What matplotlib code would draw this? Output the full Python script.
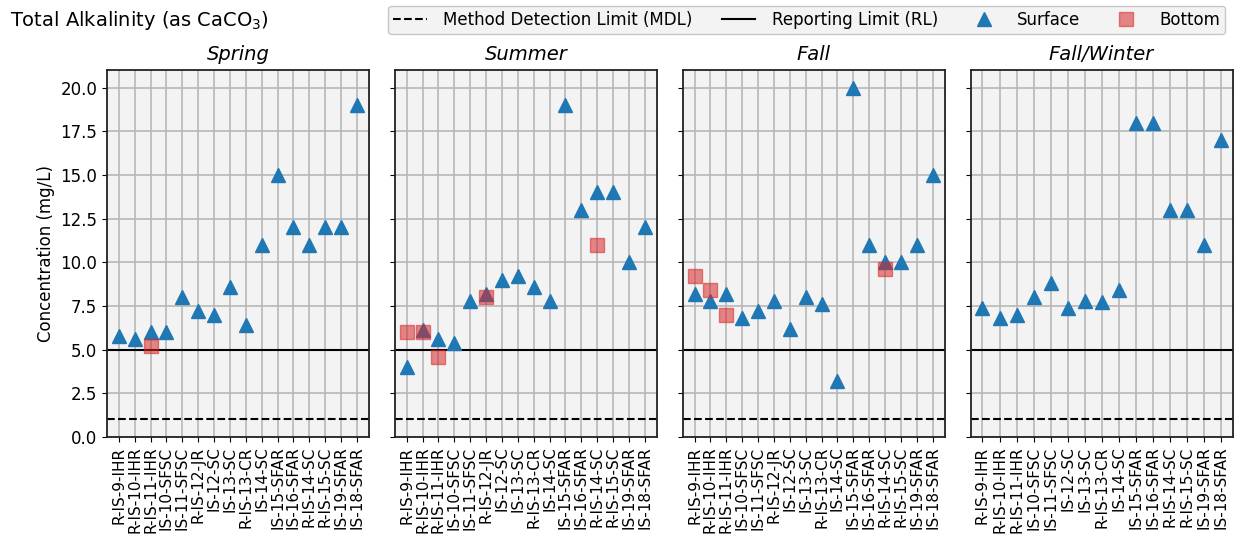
import numpy as np
import matplotlib
matplotlib.use("Agg")
import matplotlib.pyplot as plt
from matplotlib.lines import Line2D

# station lists per season
stations_main = ['R-IS-9-IHR', 'R-IS-10-IHR', 'R-IS-11-IHR', 'IS-10-SFSC', 'IS-11-SFSC',
                 'R-IS-12-JR', 'IS-12-SC', 'IS-13-SC', 'R-IS-13-CR', 'IS-14-SC',
                 'IS-15-SFAR', 'IS-16-SFAR', 'R-IS-14-SC', 'R-IS-15-SC', 'IS-19-SFAR', 'IS-18-SFAR']
stations_fw = ['R-IS-9-IHR', 'R-IS-10-IHR', 'R-IS-11-IHR', 'IS-10-SFSC', 'IS-11-SFSC',
               'IS-12-SC', 'IS-13-SC', 'R-IS-13-CR', 'IS-14-SC',
               'IS-15-SFAR', 'IS-16-SFAR', 'R-IS-14-SC', 'R-IS-15-SC', 'IS-19-SFAR', 'IS-18-SFAR']

seasons = ['Spring', 'Summer', 'Fall', 'Fall/Winter']

# surface results (mg/L)
spring_surface = [5.8, 5.6, 6.0, 6.0, 8.0, 7.2, 7.0, 8.6, 6.4, 11.0, 15.0, 12.0, 11.0, 12.0, 12.0, 19.0]
summer_surface = [4.0, 6.1, 5.6, 5.4, 7.8, 8.2, 9.0, 9.2, 8.6, 7.8, 19.0, 13.0, 14.0, 14.0, 10.0, 12.0]
fall_surface = [8.2, 7.8, 8.2, 6.8, 7.2, 7.8, 6.2, 8.0, 7.6, 3.2, 20.0, 11.0, 10.0, 10.0, 11.0, 15.0]
fw_surface = [7.4, 6.8, 7.0, 8.0, 8.8, 7.4, 7.8, 7.7, 8.4, 18.0, 18.0, 13.0, 13.0, 11.0, 17.0]

# bottom results (station, value)
spring_bottom = {'R-IS-11-IHR': 5.2}
summer_bottom = {'R-IS-9-IHR': 6.0, 'R-IS-10-IHR': 6.0, 'R-IS-11-IHR': 4.6,
                 'R-IS-12-JR': 8.0, 'R-IS-14-SC': 11.0}
fall_bottom = {'R-IS-9-IHR': 9.2, 'R-IS-10-IHR': 8.4, 'R-IS-11-IHR': 7.0, 'R-IS-14-SC': 9.6}
fw_bottom = {}

mdl = 1.0
rl = 5.0

panels = [
    (stations_main, spring_surface, spring_bottom),
    (stations_main, summer_surface, summer_bottom),
    (stations_main, fall_surface, fall_bottom),
    (stations_fw, fw_surface, fw_bottom),
]

fig = plt.figure(figsize=(12.35, 5.44), dpi=100)
left, right, bottom, top = 0.0866, 0.998, 0.197, 0.871
gap = 0.021
w = (right - left - 3 * gap) / 4

axes = []
for i, (season, (stns, surf, bott)) in enumerate(zip(seasons, panels)):
    ax = fig.add_axes([left + i * (w + gap), bottom, w, top - bottom],
                      sharey=axes[0] if axes else None)
    axes.append(ax)
    ax.set_facecolor('#f3f3f3')
    x = np.arange(len(stns))
    ax.plot(x, surf, linestyle='none', marker='^', ms=9.5, color='#1f77b4', zorder=3)
    bx = [stns.index(s) for s in bott]
    ax.plot(bx, list(bott.values()), linestyle='none', marker='s', ms=9.5,
            color='#d62728', alpha=0.55, zorder=4)
    ax.axhline(mdl, color='black', ls='--', lw=1.5, zorder=2)
    ax.axhline(rl, color='black', ls='-', lw=1.5, zorder=2)
    ax.set_xticks(x)
    ax.set_xticklabels(stns, rotation=90, fontsize=11)
    ax.set_xlim(-0.05 * (len(stns) - 1), (len(stns) - 1) * 1.05)
    ax.grid(True, color='#b8b8b8', lw=1.2, zorder=0)
    ax.set_axisbelow(True)
    ax.set_title(season, fontsize=14, style='italic', pad=7)
    ax.tick_params(axis='y', labelsize=12)
    for sp in ax.spines.values():
        sp.set_color('#222222')
        sp.set_linewidth(1.3)
    if i > 0:
        ax.tick_params(axis='y', labelleft=False)

axes[0].set_ylim(0, 21)
axes[0].set_yticks(np.arange(0, 20.1, 2.5))
axes[0].set_ylabel('Concentration (mg/L)', fontsize=12)

fig.text(0.008, 0.962, 'Total Alkalinity (as CaCO$_3$)', fontsize=14, va='center', ha='left')

handles = [
    Line2D([], [], color='black', ls='--', lw=1.5, label='Method Detection Limit (MDL)'),
    Line2D([], [], color='black', ls='-', lw=1.5, label='Reporting Limit (RL)'),
    Line2D([], [], color='#1f77b4', marker='^', ls='none', ms=9.5, label='Surface'),
    Line2D([], [], color='#d62728', marker='s', ls='none', ms=9.5, alpha=0.55, label='Bottom'),
]
leg = fig.legend(handles=handles, loc='upper right', bbox_to_anchor=(0.999, 1.004),
                 ncol=4, fontsize=12, frameon=True, fancybox=True,
                 columnspacing=1.75, handletextpad=1.0, borderpad=0.3)
leg.get_frame().set_facecolor('#f0f0f0')
leg.get_frame().set_edgecolor('#bbbbbb')

fig.savefig('out.png', dpi=100)
